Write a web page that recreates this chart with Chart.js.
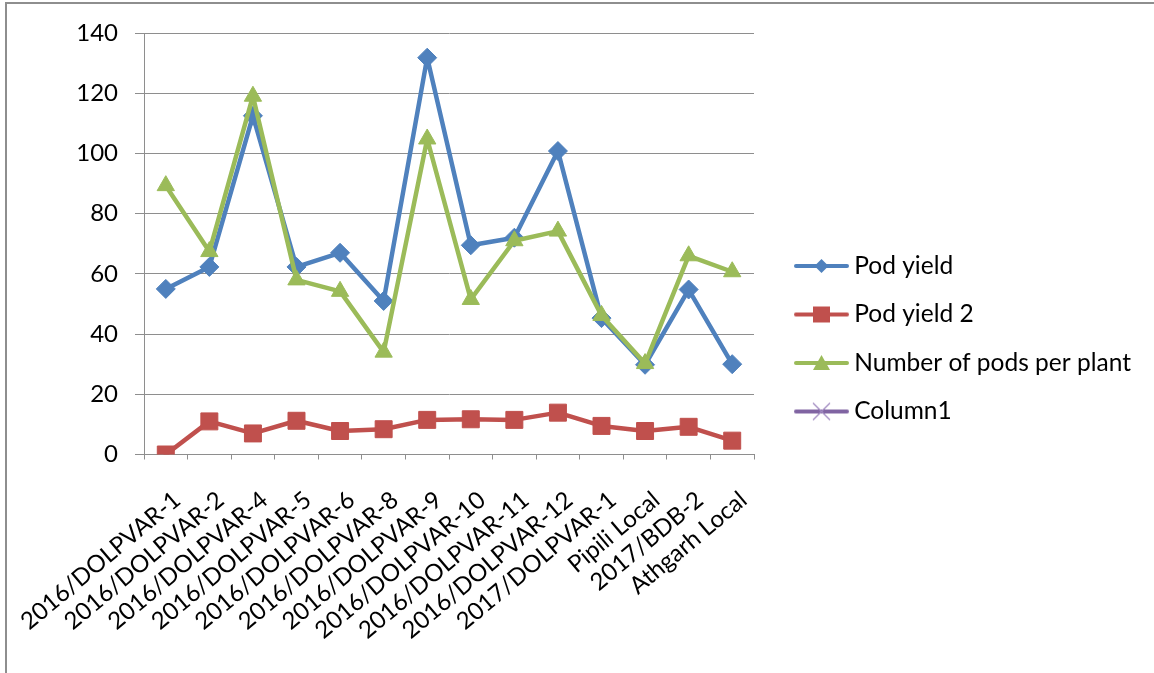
<!DOCTYPE html>
<html>
<head>
<meta charset="utf-8">
<script src="https://cdn.jsdelivr.net/npm/chart.js@4/dist/chart.umd.min.js"></script>
<style>
  html, body { margin: 0; padding: 0; background: #ffffff; }
  #wrap { position: relative; width: 1154px; height: 673px; overflow: hidden; }
  #frame { position: absolute; left: 5px; top: 2px; width: 1200px; height: 720px;
           border-left: 2px solid #8e8e8e; border-top: 2px solid #8e8e8e; }
  #c { position: absolute; left: 0; top: 0; }
</style>
</head>
<body>
<div id="wrap">
  <div id="frame"></div>
  <canvas id="c" width="1154" height="673"></canvas>
</div>
<script>
// Genotypes along the x axis
const categories = [
  '2016/DOLPVAR-1', '2016/DOLPVAR-2', '2016/DOLPVAR-4', '2016/DOLPVAR-5',
  '2016/DOLPVAR-6', '2016/DOLPVAR-8', '2016/DOLPVAR-9', '2016/DOLPVAR-10',
  '2016/DOLPVAR-11', '2016/DOLPVAR-12', '2017/DOLPVAR-1', 'Pipili Local',
  '2017/BDB-2', 'Athgarh Local'
];

// Series values
const podYield      = [55, 62.3, 112.5, 62.3, 67, 51, 131.8, 69.5, 72, 100.8, 45.3, 29.8, 54.8, 30];
const podYield2     = [0, 11, 7, 11.2, 7.8, 8.4, 11.5, 11.7, 11.5, 13.9, 9.5, 7.8, 9.2, 4.6];
const podsPerPlant  = [89.3, 67.4, 119, 58, 54.2, 34, 104.8, 51.5, 71, 74.2, 46.2, 30.2, 66, 60.7];
const column1       = [null, null, null, null, null, null, null, null, null, null, null, null, null, null];

// Value axis
const yTicks = [0, 20, 40, 60, 80, 100, 120, 140];

const BLUE = '#4f81bd', RED = '#c0504d', GREEN = '#9bbb59', PURPLE = '#8064a2';
const GRID = '#8e8e8e';
const LEGEND_WIDTH = 400;

// Legend swatch: a short line with the series marker in the middle
function swatch(color, shape, markerColor) {
  const c = document.createElement('canvas');
  c.width = 80; c.height = 24;
  const g = c.getContext('2d');
  g.strokeStyle = color; g.lineWidth = 4; g.lineCap = 'round';
  g.beginPath(); g.moveTo(26, 12); g.lineTo(77, 12); g.stroke();
  const cx = 51.5, cy = 12;
  g.fillStyle = markerColor; g.strokeStyle = markerColor;
  g.beginPath();
  if (shape === 'diamond') {
    g.moveTo(cx - 7, cy); g.lineTo(cx, cy - 7); g.lineTo(cx + 7, cy); g.lineTo(cx, cy + 7);
    g.closePath(); g.fill();
  } else if (shape === 'square') {
    g.rect(cx - 8.5, cy - 8, 17, 16); g.fill();
  } else if (shape === 'triangle') {
    g.moveTo(cx, cy - 8); g.lineTo(cx + 8.5, cy + 7); g.lineTo(cx - 8.5, cy + 7);
    g.closePath(); g.fill();
  } else if (shape === 'cross') {
    g.lineWidth = 1.2; g.lineCap = 'butt';
    g.moveTo(cx - 8.5, cy - 8.5); g.lineTo(cx + 8.5, cy + 8.5);
    g.moveTo(cx + 8.5, cy - 8.5); g.lineTo(cx - 8.5, cy + 8.5);
    g.stroke();
  }
  return c;
}

const swatches = [
  swatch(BLUE, 'diamond', BLUE),
  swatch(RED, 'square', RED),
  swatch(GREEN, 'triangle', GREEN),
  swatch(PURPLE, 'cross', '#a08ac0')
];

// Fixed-width right legend, and let the category labels run to the canvas bottom
const layoutTweaks = {
  id: 'layoutTweaks',
  beforeLayout(chart) {
    const lg = chart.legend;
    if (lg && !lg.__fixedWidth) {
      const fit = lg.fit.bind(lg);
      lg.fit = function () { fit(); this.width = LEGEND_WIDTH; };
      lg.__fixedWidth = true;
    }
  },
  afterLayout(chart) {
    const xs = chart.scales.x;
    xs.bottom = chart.height;
    xs.height = xs.bottom - xs.top;
  }
};

Chart.defaults.font.family = 'Lato, "Open Sans", sans-serif';
Chart.defaults.font.size = 24;
Chart.defaults.color = '#000000';

function lineSet(label, data, color, style, radius, order) {
  return {
    label, data, order,
    borderColor: color, backgroundColor: color,
    borderWidth: 4.5, borderJoinStyle: 'round', borderCapStyle: 'round',
    pointStyle: style, pointRadius: radius, pointHoverRadius: radius,
    pointBackgroundColor: color, pointBorderColor: color, pointBorderWidth: 1,
    tension: 0, spanGaps: false
  };
}

new Chart(document.getElementById('c'), {
  type: 'line',
  data: {
    labels: categories,
    datasets: [
      lineSet('Pod yield', podYield, BLUE, 'rectRot', 9.5, 4),
      lineSet('Pod yield 2', podYield2, RED, 'rect', 12, 3),
      lineSet('Number of pods per plant', podsPerPlant, GREEN, 'triangle', 10, 2),
      lineSet('Column1', column1, PURPLE, 'crossRot', 9, 1)
    ]
  },
  plugins: [layoutTweaks],
  options: {
    responsive: false,
    devicePixelRatio: 1,
    animation: false,
    events: [],
    layout: { padding: { left: 10, top: 33, right: 0, bottom: 28.6 } },
    scales: {
      x: {
        type: 'category',
        offset: true,
        grid: { display: true, drawOnChartArea: false, drawTicks: true, tickLength: 5,
                offset: true, color: GRID, lineWidth: 1 },
        border: { display: true, color: GRID, width: 1 },
        ticks: { autoSkip: false, minRotation: 40, maxRotation: 40, padding: 26.1,
                 labelOffset: 11.4, color: '#000000', font: { size: 24 } },
        afterFit(scale) {
          scale.height = 189.9;
          scale.paddingLeft = 0;
          scale.paddingRight = 0;
        }
      },
      y: {
        min: 0, max: 140,
        afterBuildTicks(scale) { scale.ticks = yTicks.map(v => ({ value: v })); },
        grid: { color: GRID, lineWidth: 1, drawTicks: true, tickLength: 9 },
        border: { display: true, color: GRID, width: 1 },
        ticks: { padding: 17, color: '#000000', font: { size: 24 } },
        afterFit(scale) {
          scale.width = 134;
          scale.paddingTop = 0;
          scale.paddingBottom = 0;
        }
      }
    },
    plugins: {
      tooltip: { enabled: false },
      legend: {
        position: 'right',
        labels: {
          usePointStyle: true,
          pointStyleWidth: 64,
          padding: 24,
          color: '#000000',
          font: { size: 24.5 },
          generateLabels(chart) {
            return chart.data.datasets.map((ds, i) => ({
              text: ds.label,
              datasetIndex: i,
              pointStyle: swatches[i],
              fillStyle: ds.borderColor,
              strokeStyle: ds.borderColor,
              lineWidth: 0,
              hidden: false,
              fontColor: '#000000'
            }));
          }
        }
      }
    }
  }
});
</script>
</body>
</html>
